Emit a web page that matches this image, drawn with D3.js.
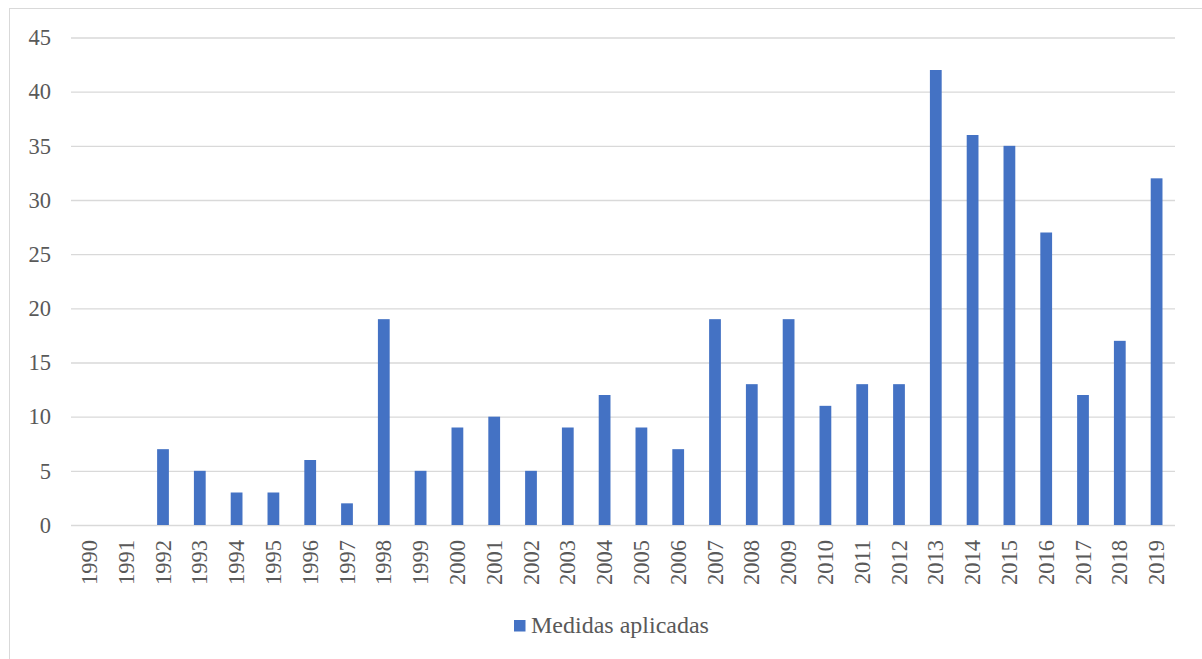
<!DOCTYPE html>
<html>
<head>
<meta charset="utf-8">
<script src="https://cdn.jsdelivr.net/npm/d3@7"></script>
<style>
  html, body { margin: 0; padding: 0; background: #fff; }
  svg { display: block; }
</style>
</head>
<body>
<svg id="chart" width="1202" height="659"></svg>
<script>
// Annual count of applied measures, 1990–2019
const years = ["1990","1991","1992","1993","1994","1995","1996","1997","1998","1999",
               "2000","2001","2002","2003","2004","2005","2006","2007","2008","2009",
               "2010","2011","2012","2013","2014","2015","2016","2017","2018","2019"];
const medidas = [0, 0, 7, 5, 3, 3, 6, 2, 19, 5,
                 9, 10, 5, 9, 12, 9, 7, 19, 13, 19,
                 11, 13, 13, 42, 36, 35, 27, 12, 17, 32];
const yTicks = [0, 5, 10, 15, 20, 25, 30, 35, 40, 45];
const seriesName = "Medidas aplicadas";

const FONT = "'Liberation Serif', 'Times New Roman', 'DejaVu Serif', serif";
const TEXT_COLOR = "#595959";

const svg = d3.select("#chart");
const plot = { left: 71, right: 1175, top: 37.5, bottom: 525 };

// outer frame of the chart area
svg.append("rect")
  .attr("x", 9.5).attr("y", 8.5)
  .attr("width", 1210).attr("height", 670)
  .attr("fill", "none").attr("stroke", "#d9d9d9").attr("stroke-width", 1);

const x = d3.scaleBand().domain(years).range([plot.left, plot.right]).paddingInner(0.68).paddingOuter(0.34);
const y = d3.scaleLinear().domain([0, 45]).range([plot.bottom, plot.top]);

// horizontal gridlines with value labels
const yAxis = d3.axisLeft(y).tickValues(yTicks).tickSize(-(plot.right - plot.left)).tickPadding(20).tickFormat(d3.format("d"));
const gy = svg.append("g").attr("transform", `translate(${plot.left},0)`).call(yAxis)
  .attr("font-family", FONT);
gy.select(".domain").remove();
gy.selectAll(".tick line").attr("stroke", "#d9d9d9").attr("stroke-width", 1.3);
gy.selectAll(".tick text").attr("font-family", FONT).attr("font-size", 22.5).attr("fill", TEXT_COLOR);

// bars
svg.append("g").selectAll("rect")
  .data(years.map((yr, i) => ({ yr, v: medidas[i] })))
  .join("rect")
  .attr("x", d => x(d.yr))
  .attr("y", d => y(d.v))
  .attr("width", x.bandwidth())
  .attr("height", d => y(0) - y(d.v))
  .attr("fill", "#4472c4");

// category axis with rotated year labels
const xAxis = d3.axisBottom(x).tickSize(0).tickPadding(0);
const gx = svg.append("g").attr("transform", `translate(0,${plot.bottom})`).call(xAxis)
  .attr("font-family", FONT);
gx.select(".domain").remove();
gx.selectAll(".tick text")
  .attr("font-family", FONT)
  .attr("font-size", 22.5).attr("fill", TEXT_COLOR)
  .attr("text-anchor", "end")
  .attr("dy", null)
  .attr("transform", "translate(0,15) rotate(-90)")
  .attr("x", 0).attr("y", 0)
  .attr("dominant-baseline", "central");

// legend
const lg = svg.append("g").attr("transform", "translate(514,620)");
lg.append("rect").attr("width", 11.5).attr("height", 11.5).attr("fill", "#4472c4");
lg.append("text").attr("x", 17).attr("y", 13)
  .attr("font-family", FONT).attr("font-size", 24).attr("fill", TEXT_COLOR)
  .text(seriesName);
</script>
</body>
</html>
